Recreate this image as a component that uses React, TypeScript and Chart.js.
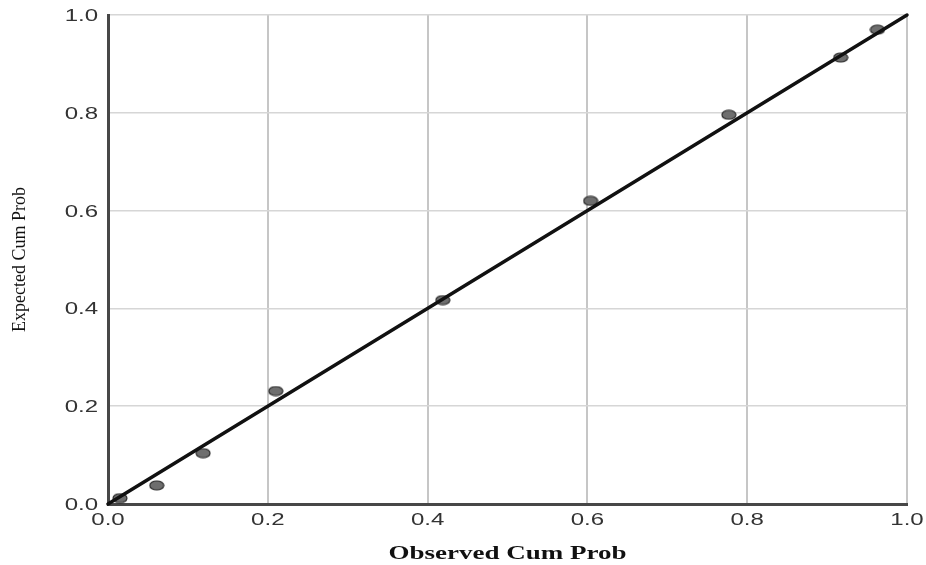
import React, { useEffect, useRef } from "react";
import { Chart, registerables } from "chart.js";

Chart.register(...registerables);

// Data
const observed = [0.015, 0.061, 0.119, 0.210, 0.419, 0.604, 0.777, 0.917, 0.963];
const expected = [0.012, 0.038, 0.104, 0.231, 0.417, 0.620, 0.796, 0.913, 0.970];
const refLineX = [0, 1];
const refLineY = [0, 1];
const tickValues = [0, 0.2, 0.4, 0.6, 0.8, 1.0];
const tickLabels = ["0.0", "0.2", "0.4", "0.6", "0.8", "1.0"];
const xTitle = "Observed Cum Prob";
const yTitle = "Expected Cum Prob";

function makeEllipse(): HTMLCanvasElement {
  const c = document.createElement("canvas");
  c.width = 16;
  c.height = 11;
  const g = c.getContext("2d")!;
  g.beginPath();
  g.ellipse(8, 5.5, 7, 4.5, 0, 0, Math.PI * 2);
  g.fillStyle = "#6e6e6e";
  g.fill();
  g.lineWidth = 1.2;
  g.strokeStyle = "#2a2a2a";
  g.stroke();
  return c;
}

const textPlugin = {
  id: "customText",
  afterDraw(chart: any) {
    const ctx = chart.ctx as CanvasRenderingContext2D;
    const xs = chart.scales.x;
    const ys = chart.scales.y;
    const area = chart.chartArea;
    const sx = 1.5;
    ctx.save();
    ctx.fillStyle = "#333";
    ctx.font = "16px 'Liberation Sans', Arial, sans-serif";
    ctx.textBaseline = "middle";
    tickValues.forEach((v, i) => {
      // y ticks
      const py = ys.getPixelForValue(v);
      ctx.save();
      ctx.translate(area.left - 10, py + 1.5);
      ctx.scale(sx, 1);
      ctx.textAlign = "right";
      ctx.fillText(tickLabels[i], 0, 0);
      ctx.restore();
      // x ticks
      const px = xs.getPixelForValue(v);
      ctx.save();
      ctx.translate(px, area.bottom + 17);
      ctx.scale(sx, 1);
      ctx.textAlign = "center";
      ctx.fillText(tickLabels[i], 0, 0);
      ctx.restore();
    });
    // x title
    ctx.fillStyle = "#111";
    ctx.font = "bold 18px 'Liberation Serif', 'Times New Roman', serif";
    ctx.save();
    ctx.translate((area.left + area.right) / 2, area.bottom + 50);
    ctx.scale(1.5, 1);
    ctx.textAlign = "center";
    ctx.fillText(xTitle, 0, 0);
    ctx.restore();
    // y title
    ctx.font = "18px 'Liberation Serif', 'Times New Roman', serif";
    ctx.save();
    ctx.translate(20, (area.top + area.bottom) / 2);
    ctx.rotate(-Math.PI / 2);
    ctx.textAlign = "center";
    ctx.fillText(yTitle, 0, 0);
    ctx.restore();
    ctx.restore();
  },
};

export default function App() {
  const ref = useRef<HTMLCanvasElement | null>(null);
  useEffect(() => {
    document.body.style.margin = "0";
    const ellipse = makeEllipse();
    const chart = new Chart(ref.current!, {
      type: "scatter",
      data: {
        datasets: [
          {
            type: "line",
            data: refLineX.map((x, i) => ({ x, y: refLineY[i] })),
            borderColor: "#111",
            borderWidth: 3.5,
            borderCapStyle: "round",
            pointRadius: 0,
            fill: false,
            clip: false as any,
            order: 0,
          } as any,
          {
            type: "scatter",
            data: observed.map((x, i) => ({ x, y: expected[i] })),
            pointStyle: ellipse as any,
            pointRadius: 7,
            order: 1,
          } as any,
        ],
      },
      plugins: [textPlugin],
      options: {
        animation: false,
        responsive: false,
        maintainAspectRatio: false,
        layout: { padding: { left: 0, top: 15, right: 19, bottom: 0 } },
        plugins: { legend: { display: false }, tooltip: { enabled: false } },
        scales: {
          x: {
            type: "linear",
            min: 0,
            max: 1,
            ticks: { display: false, stepSize: 0.2 },
            grid: {
              drawTicks: false,
              color: (c: any) => (c.tick && c.tick.value === 0 ? "rgba(0,0,0,0)" : "#c6c6c6"),
              lineWidth: 2,
            },
            border: { display: true, color: "#474747", width: 3 },
            afterFit: (s: any) => {
              s.height = 61;
            },
          },
          y: {
            type: "linear",
            min: 0,
            max: 1,
            ticks: { display: false, stepSize: 0.2 },
            grid: {
              drawTicks: false,
              color: (c: any) => (c.tick && c.tick.value === 0 ? "rgba(0,0,0,0)" : "#d6d6d6"),
              lineWidth: 1.5,
            },
            border: { display: true, color: "#474747", width: 3 },
            afterFit: (s: any) => {
              s.width = 108;
            },
          },
        },
      } as any,
    });
    return () => chart.destroy();
  }, []);
  return (
    <div style={{ width: 926, height: 565, background: "#fff" }}>
      <canvas ref={ref} width={926} height={565} style={{ display: "block" }} />
    </div>
  );
}
